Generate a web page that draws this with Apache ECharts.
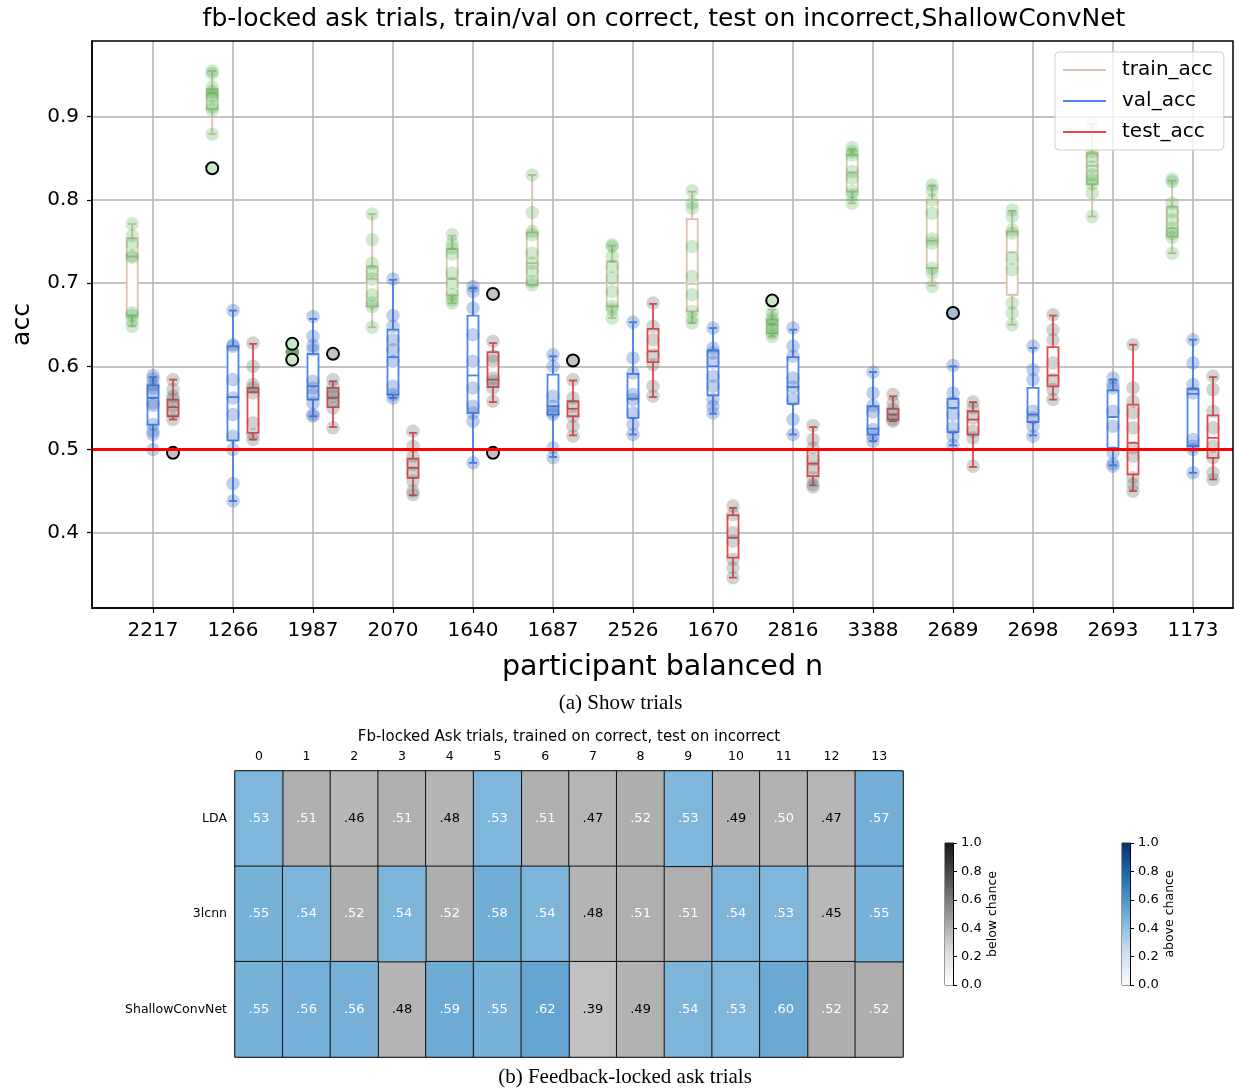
<!DOCTYPE html>
<html><head><meta charset="utf-8">
<script src="https://cdn.jsdelivr.net/npm/echarts@6.0.0/dist/echarts.min.js"></script>
<style>html,body{margin:0;padding:0;background:#fff}#c{width:1239px;height:1091px}</style>
</head><body><div id="c"></div><script>
// ---------- top chart data ----------
const participants = ['2217','1266','1987','2070','1640','1687','2526','1670','2816','3388','2689','2698','2693','1173'];
const yTicks = [0.4,0.5,0.6,0.7,0.8,0.9];
const chanceLevel = 0.5;
// box stats: [whisker low, q1, median, q3, whisker high]
const trainBox = [
  [0.648,0.661,0.732,0.754,0.771],[0.879,0.909,0.928,0.933,0.955],[0.615,0.615,0.617,0.619,0.619],
  [0.647,0.672,0.705,0.720,0.783],[0.676,0.685,0.705,0.741,0.757],[0.698,0.698,0.724,0.761,0.830],
  [0.658,0.672,0.700,0.726,0.745],[0.652,0.666,0.699,0.777,0.810],[0.636,0.640,0.650,0.656,0.668],
  [0.796,0.810,0.833,0.854,0.861],[0.697,0.718,0.751,0.800,0.817],[0.650,0.686,0.737,0.762,0.787],
  [0.780,0.819,0.841,0.856,0.891],[0.736,0.756,0.766,0.792,0.823]];
const valBox = [
  [0.500,0.530,0.562,0.577,0.587],[0.438,0.511,0.563,0.624,0.667],[0.540,0.560,0.576,0.615,0.657],
  [0.562,0.566,0.611,0.644,0.704],[0.484,0.544,0.589,0.661,0.694],[0.491,0.542,0.552,0.590,0.612],
  [0.518,0.538,0.561,0.591,0.653],[0.543,0.565,0.600,0.619,0.646],[0.518,0.555,0.575,0.611,0.644],
  [0.510,0.518,0.525,0.552,0.593],[0.505,0.521,0.550,0.561,0.600],[0.517,0.533,0.542,0.574,0.622],
  [0.481,0.502,0.539,0.571,0.584],[0.472,0.504,0.567,0.573,0.632]];
const testBox = [
  [0.536,0.540,0.551,0.560,0.584],[0.512,0.520,0.569,0.574,0.627],[0.527,0.551,0.562,0.574,0.582],
  [0.445,0.466,0.478,0.489,0.520],[0.557,0.575,0.584,0.617,0.628],[0.517,0.540,0.549,0.558,0.583],
  [0.563,0.605,0.618,0.645,0.675],[0.346,0.370,0.394,0.421,0.430],[0.457,0.468,0.483,0.500,0.527],
  [0.534,0.536,0.542,0.549,0.564],[0.479,0.518,0.536,0.546,0.557],[0.560,0.576,0.589,0.623,0.661],
  [0.450,0.470,0.508,0.554,0.626],[0.464,0.490,0.514,0.541,0.587]];
// individual runs
const trainPts = [
  [0.771,0.757,0.747,0.733,0.731,0.664,0.661,0.655,0.648],
  [0.955,0.952,0.936,0.930,0.926,0.923,0.912,0.908,0.879],
  [0.617,0.617,0.616,0.618],
  [0.783,0.752,0.724,0.714,0.705,0.686,0.676,0.672,0.647],
  [0.758,0.748,0.742,0.735,0.712,0.700,0.686,0.680,0.676],
  [0.830,0.785,0.762,0.758,0.736,0.724,0.714,0.702,0.698],
  [0.746,0.744,0.732,0.720,0.706,0.690,0.672,0.668,0.658],
  [0.811,0.796,0.790,0.744,0.708,0.686,0.666,0.658,0.652],
  [0.665,0.658,0.655,0.650,0.645,0.640,0.636],
  [0.863,0.858,0.854,0.834,0.826,0.810,0.806,0.796],
  [0.818,0.812,0.800,0.784,0.753,0.748,0.718,0.712,0.696],
  [0.788,0.780,0.764,0.760,0.730,0.716,0.676,0.664,0.650],
  [0.894,0.858,0.852,0.840,0.830,0.824,0.819,0.808,0.780],
  [0.825,0.822,0.796,0.786,0.776,0.766,0.760,0.755,0.736]];
const valPts = [
  [0.589,0.585,0.578,0.574,0.568,0.556,0.553,0.530,0.522,0.518,0.500],
  [0.667,0.626,0.624,0.584,0.562,0.542,0.516,0.500,0.459,0.438],
  [0.660,0.636,0.625,0.620,0.582,0.574,0.566,0.556,0.542,0.540],
  [0.705,0.661,0.648,0.632,0.620,0.606,0.576,0.566,0.562],
  [0.696,0.690,0.670,0.638,0.606,0.574,0.552,0.544,0.534,0.484],
  [0.614,0.600,0.564,0.552,0.545,0.542,0.502,0.490],
  [0.653,0.610,0.592,0.566,0.560,0.544,0.530,0.518],
  [0.646,0.622,0.616,0.605,0.588,0.576,0.560,0.552,0.544],
  [0.646,0.624,0.612,0.586,0.575,0.560,0.536,0.518],
  [0.593,0.568,0.553,0.545,0.524,0.516,0.510],
  [0.601,0.568,0.556,0.542,0.526,0.516,0.505],
  [0.624,0.596,0.584,0.546,0.538,0.528,0.516],
  [0.586,0.578,0.574,0.546,0.528,0.496,0.483,0.480],
  [0.632,0.604,0.578,0.568,0.512,0.504,0.500,0.472]];
const testPts = [
  [0.584,0.572,0.564,0.560,0.552,0.545,0.536],
  [0.628,0.600,0.578,0.574,0.568,0.532,0.518,0.512],
  [0.584,0.575,0.568,0.564,0.558,0.550,0.526],
  [0.522,0.504,0.492,0.482,0.472,0.462,0.450,0.446],
  [0.630,0.612,0.606,0.586,0.582,0.574,0.558],
  [0.584,0.562,0.552,0.540,0.528,0.516],
  [0.676,0.648,0.632,0.614,0.602,0.576,0.564],
  [0.432,0.422,0.400,0.390,0.368,0.358,0.346],
  [0.529,0.512,0.502,0.488,0.478,0.466,0.458,0.455],
  [0.566,0.556,0.548,0.542,0.536,0.534],
  [0.557,0.550,0.538,0.522,0.514,0.480],
  [0.662,0.644,0.632,0.604,0.584,0.572,0.560],
  [0.626,0.574,0.558,0.544,0.526,0.502,0.492,0.466,0.458,0.450],
  [0.588,0.572,0.546,0.526,0.504,0.490,0.472,0.464]];
// fliers: [participant index, value]
const trainOut = [[1,0.838],[2,0.627],[2,0.608],[8,0.679]];
const valOut = [[10,0.664]];
const testOut = [[0,0.496],[2,0.615],[4,0.687],[4,0.496],[5,0.607]];

// ---------- heatmap data ----------
const models = ['LDA','3lcnn','ShallowConvNet'];
const heatCols = ['0','1','2','3','4','5','6','7','8','9','10','11','12','13'];
const accLDA     = [0.53,0.51,0.46,0.51,0.48,0.53,0.51,0.47,0.52,0.53,0.49,0.50,0.47,0.57];
const acc3lcnn   = [0.55,0.54,0.52,0.54,0.52,0.58,0.54,0.48,0.51,0.51,0.54,0.53,0.45,0.55];
const accShallow = [0.55,0.56,0.56,0.48,0.59,0.55,0.62,0.39,0.49,0.54,0.53,0.60,0.52,0.52];
const sigLDA     = [1,0,0,0,0,1,0,0,0,1,0,0,0,1];
const sig3lcnn   = [1,1,0,1,0,1,1,0,0,0,1,1,0,1];
const sigShallow = [1,1,1,0,1,1,1,0,0,1,1,1,0,0];
const cbTicks = [0,0.2,0.4,0.6,0.8,1.0];

// ---------- build ----------
const FONT = 'DejaVu Sans';
const OFF = [-0.26, 0, 0.25];
const C_TRAIN = '#d9c3b2', C_VAL = '#4a84ee', C_TEST = '#f24444';
function boxData(stats, k){ return stats.map((s,i)=>[i+OFF[k]].concat(s)); }
function ptData(pts, k){ const o=[]; pts.forEach((a,i)=>a.forEach(v=>o.push([i+OFF[k], v]))); return o; }
function outData(arr, k){ return arr.map(d=>[d[0]+OFF[k], d[1]]); }
function renderBox(params, api){
  const x = api.value(0);
  const p = [1,2,3,4,5].map(d=>api.coord([x, api.value(d)]));
  const cx = p[0][0], hw = 5.5, cw = 4;
  const col = api.visual('color');
  const st = {stroke: col, lineWidth: 1.8};
  return {type:'group', children:[
    {type:'line', shape:{x1:cx,y1:p[0][1],x2:cx,y2:p[1][1]}, style:st},
    {type:'line', shape:{x1:cx,y1:p[3][1],x2:cx,y2:p[4][1]}, style:st},
    {type:'line', shape:{x1:cx-cw,y1:p[0][1],x2:cx+cw,y2:p[0][1]}, style:st},
    {type:'line', shape:{x1:cx-cw,y1:p[4][1],x2:cx+cw,y2:p[4][1]}, style:st},
    {type:'rect', shape:{x:cx-hw,y:p[3][1],width:2*hw,height:Math.max(p[1][1]-p[3][1],0.5)}, style:{stroke:col,fill:'#fff',lineWidth:1.8}},
    {type:'line', shape:{x1:cx-hw,y1:p[2][1],x2:cx+hw,y2:p[2][1]}, style:st}
  ]};
}
function boxSeries(name, stats, k, color){
  return {type:'custom', name, xAxisIndex:0, yAxisIndex:0, renderItem:renderBox, z:2,
    itemStyle:{color}, encode:{x:0, y:[1,2,3,4,5]}, data:boxData(stats,k), clip:true};
}
function ptSeries(pts, k, color){
  return {type:'scatter', xAxisIndex:0, yAxisIndex:0, z:3, symbolSize:13.5, silent:true,
    itemStyle:{color}, data:ptData(pts,k)};
}
function outSeries(arr, k, fill){
  return {type:'scatter', xAxisIndex:0, yAxisIndex:0, z:4, symbolSize:12, silent:true,
    itemStyle:{color:fill, borderColor:'#000', borderWidth:2, opacity:1}, data:outData(arr,k)};
}
function heatData(rows, sigs, wantSig){
  const o=[];
  rows.forEach((r,ri)=>r.forEach((v,ci)=>{
    if (sigs[ri][ci]===wantSig) o.push({value:[ci,ri,v], label:{color: v<0.5?'#000':'#fff'}});
  }));
  return o;
}
const accRows = [accLDA, acc3lcnn, accShallow];
const sigRows = [sigLDA, sig3lcnn, sigShallow];
const heatLabel = {show:true, fontSize:13, fontFamily:FONT, formatter:p=>p.value[2].toFixed(2).slice(1)};

const chart = echarts.init(document.getElementById('c'), null, {renderer:'canvas'});
const option = {
  animation:false,
  textStyle:{fontFamily:FONT},
  grid:[
    {left:92, top:41, width:1141, height:567, show:true, borderColor:'#000', borderWidth:1.5, z:10},
    {left:235, top:771, width:668, height:286, show:true, borderColor:'#444', borderWidth:1},
    {left:945, top:843, width:8, height:142, show:true, borderColor:'#333', borderWidth:1},
    {left:1122, top:843, width:8, height:142, show:true, borderColor:'#333', borderWidth:1}
  ],
  xAxis:[
    {gridIndex:0, type:'value', min:-0.7625, max:13.5, minInterval:1, maxInterval:1,
     axisLine:{show:true, onZero:false, lineStyle:{color:'#000', width:1.5}},
     axisTick:{show:true, length:5, lineStyle:{color:'#000', width:1.2}, customValues:participants.map((_,i)=>i)},
     axisLabel:{fontSize:20, color:'#000', margin:13, customValues:participants.map((_,i)=>i),
       formatter:v=>{const i=Math.round(v); return Math.abs(v-i)<1e-6 && participants[i]? participants[i]:'';}},
     splitLine:{show:true, lineStyle:{color:'#b0b0b0', width:1.5}},
     name:'participant balanced n', nameLocation:'middle', nameGap:45, nameTextStyle:{fontSize:28.5, color:'#000'}},
    {gridIndex:1, type:'category', data:heatCols, position:'top', axisLine:{show:false}, axisTick:{show:false},
     axisLabel:{fontSize:12.5, color:'#000', margin:8}, splitLine:{show:false}},
    {gridIndex:2, type:'category', data:['cb'], show:false},
    {gridIndex:3, type:'category', data:['cb'], show:false}
  ],
  yAxis:[
    {gridIndex:0, type:'value', min:0.3095, max:0.991, minInterval:0.1, maxInterval:0.1,
     axisLine:{show:true, onZero:false, lineStyle:{color:'#000', width:1.5}},
     axisTick:{show:true, length:5, lineStyle:{color:'#000', width:1.2}, customValues:yTicks},
     axisLabel:{fontSize:20, color:'#000', margin:13, customValues:yTicks,
       formatter:v=>{const r=Math.round(v*10)/10; return Math.abs(v-r)<1e-6 ? r.toFixed(1):'';}},
     splitLine:{show:true, lineStyle:{color:'#b0b0b0', width:1.5}},
     name:'acc', nameLocation:'middle', nameGap:57, nameTextStyle:{fontSize:25, color:'#000'}},
    {gridIndex:1, type:'category', data:models, inverse:true, axisLine:{show:false}, axisTick:{show:false},
     axisLabel:{fontSize:12.5, color:'#000', margin:8}, splitLine:{show:false}},
    {gridIndex:2, type:'value', min:0, max:1, interval:0.2, position:'right',
     axisLine:{show:true, onZero:false, lineStyle:{color:'#000', width:1}}, axisTick:{show:true, length:4, lineStyle:{color:'#000'}, customValues:cbTicks},
     axisLabel:{fontSize:13, color:'#000', margin:8, customValues:cbTicks, formatter:v=>v.toFixed(1)}, splitLine:{show:false},
     name:'below chance', nameLocation:'middle', nameRotate:90, nameGap:33, nameTextStyle:{fontSize:12.5, color:'#000'}},
    {gridIndex:3, type:'value', min:0, max:1, interval:0.2, position:'right',
     axisLine:{show:true, onZero:false, lineStyle:{color:'#000', width:1}}, axisTick:{show:true, length:4, lineStyle:{color:'#000'}, customValues:cbTicks},
     axisLabel:{fontSize:13, color:'#000', margin:8, customValues:cbTicks, formatter:v=>v.toFixed(1)}, splitLine:{show:false},
     name:'above chance', nameLocation:'middle', nameRotate:90, nameGap:33, nameTextStyle:{fontSize:12.5, color:'#000'}}
  ],
  legend:{
    data:['train_acc','val_acc','test_acc'], orient:'vertical', left:1055, top:52,
    icon:'rect', itemWidth:43, itemHeight:2, itemGap:9, padding:[7,11,7,8],
    backgroundColor:'rgba(255,255,255,0.8)', borderColor:'#cccccc', borderWidth:1, borderRadius:4,
    textStyle:{fontSize:20, color:'#000', lineHeight:22, padding:[0,0,0,11]}, z:20
  },
  visualMap:[
    {type:'continuous', show:false, seriesIndex:10, dimension:2, min:0.38, max:0.53, inRange:{color:['#c3c3c3','#acacac']}},
    {type:'continuous', show:false, seriesIndex:11, dimension:2, min:0.52, max:0.63, inRange:{color:['#82b8dc','#62a3d0']}}
  ],
  series:[
    boxSeries('train_acc', trainBox, 0, C_TRAIN),
    boxSeries('val_acc', valBox, 1, C_VAL),
    boxSeries('test_acc', testBox, 2, C_TEST),
    ptSeries(trainPts, 0, 'rgba(44,160,44,0.28)'),
    ptSeries(valPts, 1, 'rgba(50,100,190,0.38)'),
    ptSeries(testPts, 2, 'rgba(100,100,100,0.36)'),
    outSeries(trainOut, 0, '#c8e8c8'),
    outSeries(valOut, 1, '#a9bcdc'),
    outSeries(testOut, 2, '#c2c2c2'),
    {type:'line', xAxisIndex:0, yAxisIndex:0, data:[], z:6, silent:true,
     markLine:{silent:true, symbol:['none','none'], label:{show:false}, animation:false,
       lineStyle:{color:'#ff0000', width:3, type:'solid'}, data:[{yAxis:chanceLevel}]}},
    {type:'heatmap', xAxisIndex:1, yAxisIndex:1, data:heatData(accRows, sigRows, 0),
     itemStyle:{borderColor:'#111', borderWidth:1}, label:heatLabel},
    {type:'heatmap', xAxisIndex:1, yAxisIndex:1, data:heatData(accRows, sigRows, 1),
     itemStyle:{borderColor:'#111', borderWidth:1}, label:heatLabel},
    {type:'bar', xAxisIndex:2, yAxisIndex:2, data:[1], barWidth:'100%', silent:true,
     itemStyle:{color:new echarts.graphic.LinearGradient(0,1,0,0,[
       {offset:0,color:'#ffffff'},{offset:0.25,color:'#d9d9d9'},{offset:0.5,color:'#969696'},{offset:0.75,color:'#525252'},{offset:1,color:'#1a1a1a'}])}},
    {type:'bar', xAxisIndex:3, yAxisIndex:3, data:[1], barWidth:'100%', silent:true,
     itemStyle:{color:new echarts.graphic.LinearGradient(0,1,0,0,[
       {offset:0,color:'#f7fbff'},{offset:0.25,color:'#c6dbef'},{offset:0.5,color:'#6baed6'},{offset:0.75,color:'#2171b5'},{offset:1,color:'#08306b'}])}}
  ],
  graphic:[
    {type:'text', x:664, y:19, style:{text:'fb-locked ask trials, train/val on correct, test on incorrect,ShallowConvNet',
      font:'25px "DejaVu Sans"', fill:'#000', textAlign:'center', textVerticalAlign:'middle'}},
    {type:'text', x:620.5, y:703, style:{text:'(a) Show trials', font:'21px "Liberation Serif"', fill:'#000', textAlign:'center', textVerticalAlign:'middle'}},
    {type:'text', x:569, y:737, style:{text:'Fb-locked Ask trials, trained on correct, test on incorrect', font:'15px "DejaVu Sans"', fill:'#000', textAlign:'center', textVerticalAlign:'middle'}},
    {type:'text', x:625, y:1077, style:{text:'(b) Feedback-locked ask trials', font:'21px "Liberation Serif"', fill:'#000', textAlign:'center', textVerticalAlign:'middle'}}
  ]
};
chart.setOption(option);
</script></body></html>
